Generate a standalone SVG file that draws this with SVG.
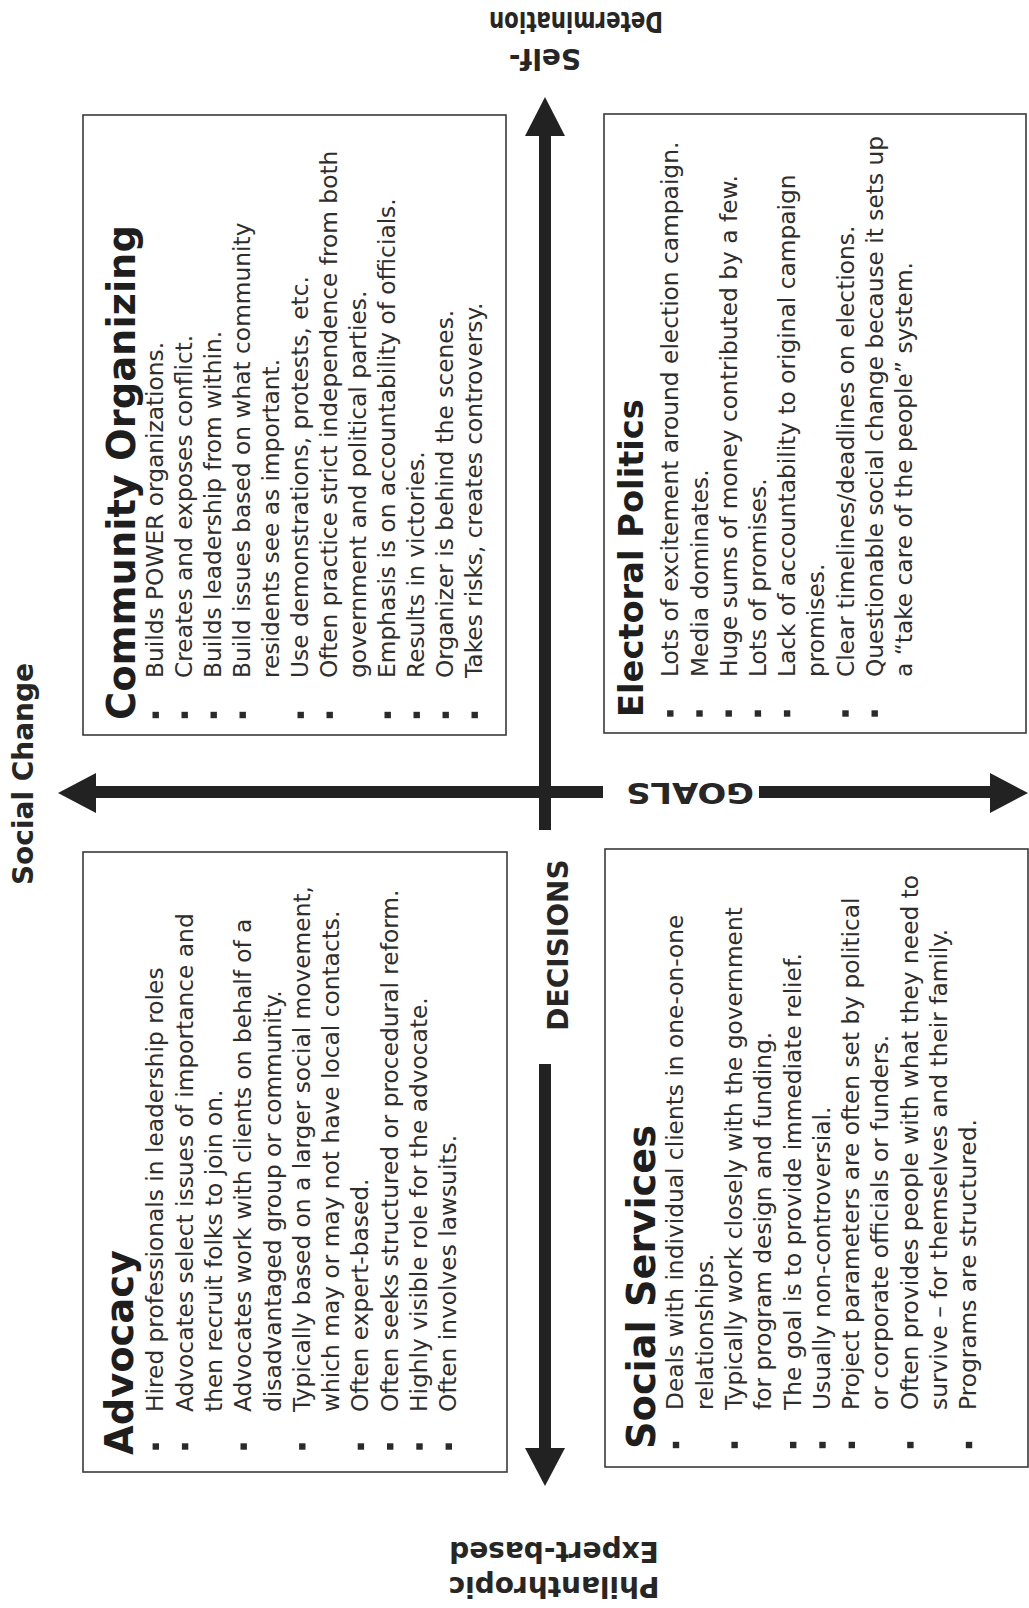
<svg xmlns="http://www.w3.org/2000/svg" width="1029" height="1608" viewBox="0 0 1029 1608">
<style>
.bg{fill:#ffffff}
.box{fill:#ffffff;stroke:#3a3a3a;stroke-width:1.6}
.t{font-family:"DejaVu Sans",Verdana,sans-serif;font-size:23.3px;fill:#2e2e2e}
.h{font-family:"DejaVu Sans",Verdana,sans-serif;font-weight:bold;fill:#1e1e1e}
.lbl{font-family:"DejaVu Sans",Verdana,sans-serif;font-weight:bold;font-size:28px;fill:#262626}
.ax{fill:#222222}
</style>
<defs>
<rect id="bul" x="-3.2" y="-3.2" width="6.4" height="6.4" fill="#2a2a2a"/>
</defs>
<rect class="bg" x="0" y="0" width="1029" height="1608"/>

<g id="connectors">
  <rect class="ax" x="539" y="130" width="12" height="700"/>
  <polygon class="ax" points="545,97 525,136 565,136"/>
  <rect class="ax" x="539" y="1064" width="12" height="390"/>
  <polygon class="ax" points="525,1448 565,1448 545,1486"/>
  <rect class="ax" x="90" y="786" width="513" height="12"/>
  <polygon class="ax" points="58,793 96,773 96,813"/>
  <rect class="ax" x="759" y="786" width="236" height="12"/>
  <polygon class="ax" points="990,773 990,813 1028,793"/>
</g>

<g id="axis-labels">
  <text class="lbl" transform="translate(545,49) rotate(180)" text-anchor="middle" font-size="28.5">Self-</text>
  <text class="lbl" transform="translate(576,12) rotate(180)" text-anchor="middle" font-size="28.5" textLength="174" lengthAdjust="spacingAndGlyphs">Determination</text>
  <text class="lbl" transform="translate(554,1542) rotate(180)" text-anchor="middle">Expert-based</text>
  <text class="lbl" transform="translate(554,1577) rotate(180)" text-anchor="middle">Philanthropic</text>
  <text class="lbl" transform="translate(33,774) rotate(-90)" text-anchor="middle" font-size="25.8">Social Change</text>
  <text class="lbl" transform="translate(568,945) rotate(-90)" text-anchor="middle" font-size="27.5">DECISIONS</text>
  <text class="lbl" transform="translate(690,783) rotate(180)" text-anchor="middle" font-size="29" textLength="128" lengthAdjust="spacingAndGlyphs">GOALS</text>
</g>

<g id="community-organizing" transform="translate(83,735) rotate(-90)">
  <rect class="box" x="0" y="0" width="620" height="423"/>
  <text class="h" x="15" y="52" font-size="38.4">Community Organizing</text>
  <use href="#bul" x="20" y="72.7"/>
  <use href="#bul" x="20" y="101.7"/>
  <use href="#bul" x="20" y="130.7"/>
  <use href="#bul" x="20" y="159.7"/>
  <use href="#bul" x="20" y="217.7"/>
  <use href="#bul" x="20" y="246.7"/>
  <use href="#bul" x="20" y="304.7"/>
  <use href="#bul" x="20" y="333.7"/>
  <use href="#bul" x="20" y="362.7"/>
  <use href="#bul" x="20" y="391.7"/>
  <text class="t" x="57" y="79.7">Builds POWER organizations.</text>
  <text class="t" x="57" y="108.7">Creates and exposes conflict.</text>
  <text class="t" x="57" y="137.7">Builds leadership from within.</text>
  <text class="t" x="57" y="166.7">Build issues based on what community</text>
  <text class="t" x="57" y="195.7">residents see as important.</text>
  <text class="t" x="57" y="224.7">Use demonstrations, protests, etc.</text>
  <text class="t" x="57" y="253.7">Often practice strict independence from both</text>
  <text class="t" x="57" y="282.7">government and political parties.</text>
  <text class="t" x="57" y="311.7">Emphasis is on accountability of officials.</text>
  <text class="t" x="57" y="340.7">Results in victories.</text>
  <text class="t" x="57" y="369.7">Organizer is behind the scenes.</text>
  <text class="t" x="57" y="398.7">Takes risks, creates controversy.</text>
</g>

<g id="electoral-politics" transform="translate(604,733) rotate(-90)">
  <rect class="box" x="0" y="0" width="619" height="422"/>
  <text class="h" x="16" y="39.3" font-size="33.7">Electoral Politics</text>
  <use href="#bul" x="19.5" y="66.3"/>
  <use href="#bul" x="19.5" y="95.5"/>
  <use href="#bul" x="19.5" y="124.7"/>
  <use href="#bul" x="19.5" y="153.9"/>
  <use href="#bul" x="19.5" y="183.1"/>
  <use href="#bul" x="19.5" y="241.5"/>
  <use href="#bul" x="19.5" y="270.7"/>
  <text class="t" x="56" y="74.3">Lots of excitement around election campaign.</text>
  <text class="t" x="56" y="103.5">Media dominates.</text>
  <text class="t" x="56" y="132.7">Huge sums of money contributed by a few.</text>
  <text class="t" x="56" y="161.9">Lots of promises.</text>
  <text class="t" x="56" y="191.1">Lack of accountability to original campaign</text>
  <text class="t" x="56" y="220.3">promises.</text>
  <text class="t" x="56" y="249.5">Clear timelines/deadlines on elections.</text>
  <text class="t" x="56" y="278.7">Questionable social change because it sets up</text>
  <text class="t" x="56" y="307.9">a “take care of the people” system.</text>
</g>

<g id="advocacy" transform="translate(83,1472) rotate(-90)">
  <rect class="box" x="0" y="0" width="620" height="424"/>
  <text class="h" x="17" y="50.3" font-size="38.4">Advocacy</text>
  <use href="#bul" x="25.5" y="72.8"/>
  <use href="#bul" x="25.5" y="102.1"/>
  <use href="#bul" x="25.5" y="160.7"/>
  <use href="#bul" x="25.5" y="219.3"/>
  <use href="#bul" x="25.5" y="277.9"/>
  <use href="#bul" x="25.5" y="307.2"/>
  <use href="#bul" x="25.5" y="336.5"/>
  <use href="#bul" x="25.5" y="365.8"/>
  <text class="t" x="60" y="80.3">Hired professionals in leadership roles</text>
  <text class="t" x="60" y="109.6">Advocates select issues of importance and</text>
  <text class="t" x="60" y="138.9">then recruit folks to join on.</text>
  <text class="t" x="60" y="168.2">Advocates work with clients on behalf of a</text>
  <text class="t" x="60" y="197.5">disadvantaged group or community.</text>
  <text class="t" x="60" y="226.8">Typically based on a larger social movement,</text>
  <text class="t" x="60" y="256.1">which may or may not have local contacts.</text>
  <text class="t" x="60" y="285.4">Often expert-based.</text>
  <text class="t" x="60" y="314.7">Often seeks structured or procedural reform.</text>
  <text class="t" x="60" y="344">Highly visible role for the advocate.</text>
  <text class="t" x="60" y="373.3">Often involves lawsuits.</text>
</g>

<g id="social-services" transform="translate(605,1467) rotate(-90)">
  <rect class="box" x="0" y="0" width="618" height="423"/>
  <text class="h" x="18" y="50" font-size="38.3">Social Services</text>
  <use href="#bul" x="22" y="71"/>
  <use href="#bul" x="22" y="129.6"/>
  <use href="#bul" x="22" y="188.2"/>
  <use href="#bul" x="22" y="217.5"/>
  <use href="#bul" x="22" y="246.8"/>
  <use href="#bul" x="22" y="305.4"/>
  <use href="#bul" x="22" y="364"/>
  <text class="t" x="57" y="78.3">Deals with individual clients in one-on-one</text>
  <text class="t" x="57" y="107.6">relationships.</text>
  <text class="t" x="57" y="136.9">Typically work closely with the government</text>
  <text class="t" x="57" y="166.2">for program design and funding.</text>
  <text class="t" x="57" y="195.5">The goal is to provide immediate relief.</text>
  <text class="t" x="57" y="224.8">Usually non-controversial.</text>
  <text class="t" x="57" y="254.1">Project parameters are often set by political</text>
  <text class="t" x="57" y="283.4">or corporate officials or funders.</text>
  <text class="t" x="57" y="312.7">Often provides people with what they need to</text>
  <text class="t" x="57" y="342">survive – for themselves and their family.</text>
  <text class="t" x="57" y="371.3">Programs are structured.</text>
</g>
</svg>
